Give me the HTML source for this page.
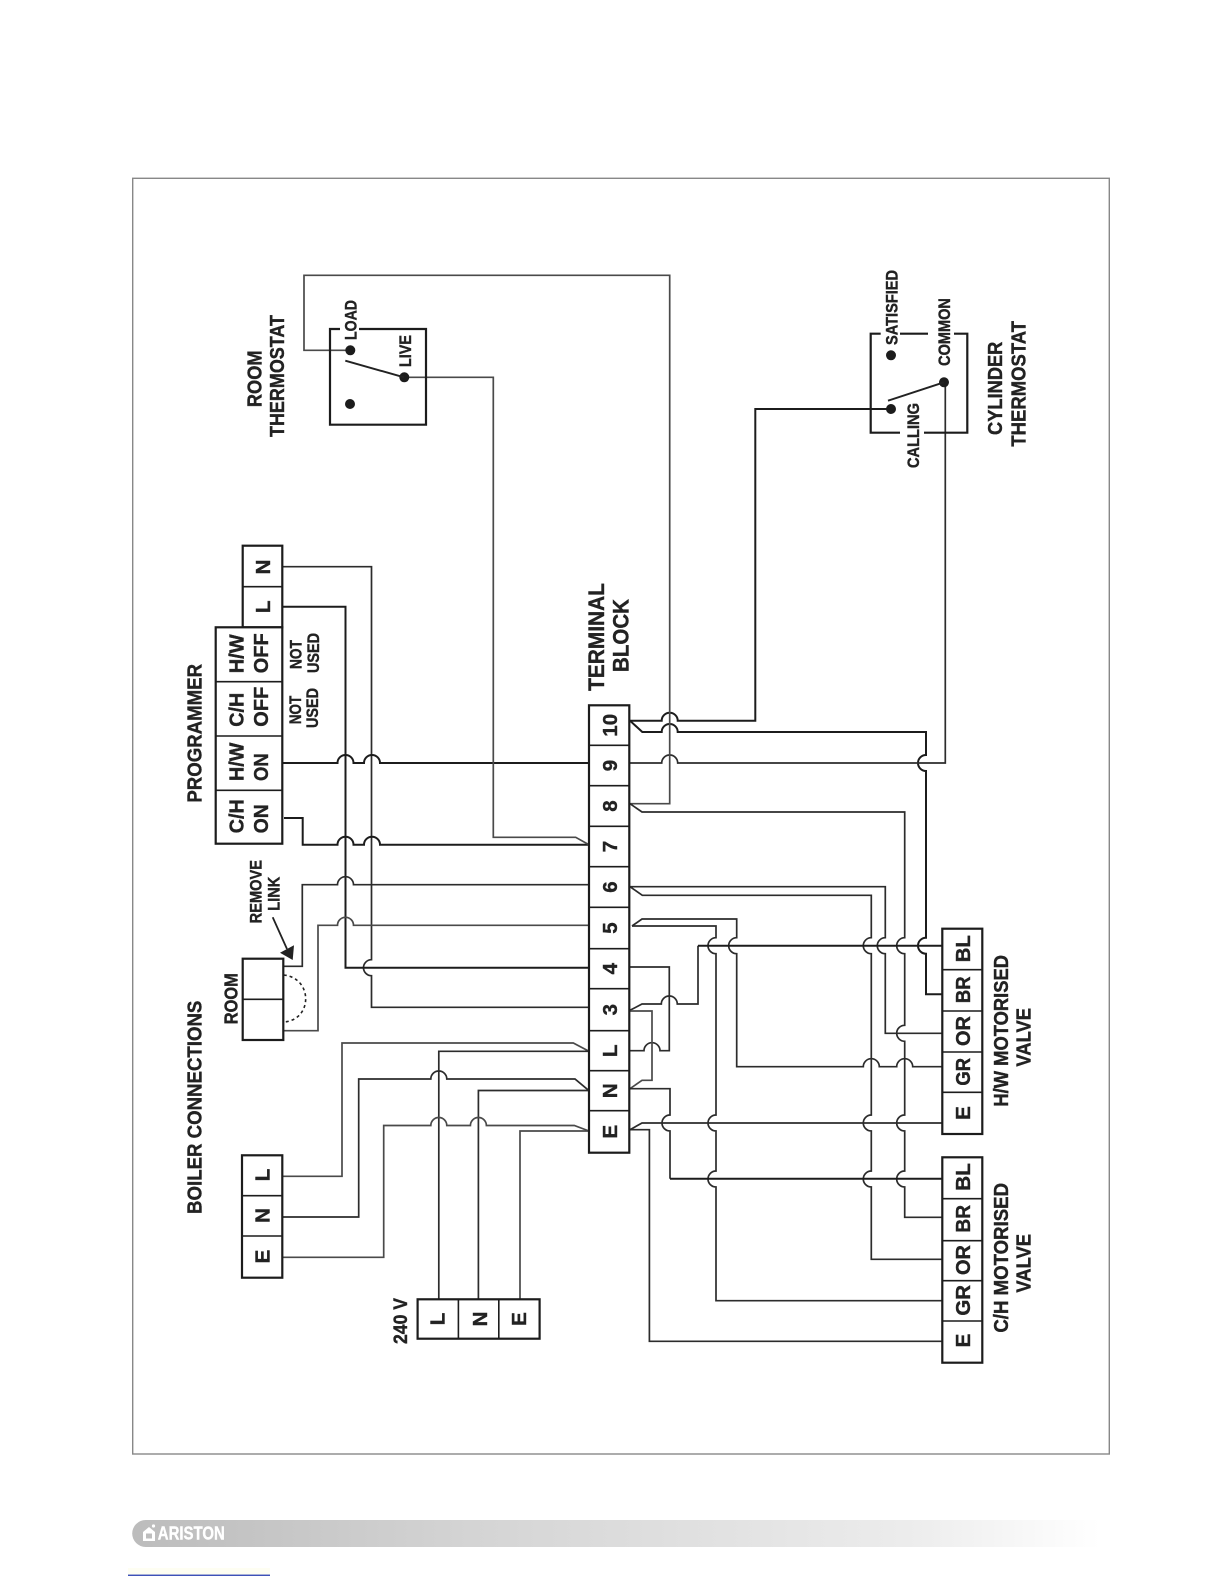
<!DOCTYPE html>
<html><head><meta charset="utf-8"><style>
html,body{margin:0;padding:0;background:#fff}
svg{display:block}
text{font-family:"Liberation Sans",Arial,sans-serif;font-weight:bold;fill:#222;stroke:#222;stroke-width:.4;text-anchor:middle}
.w{fill:none;stroke:#1c1c1c;stroke-width:2}
.m{fill:none;stroke:#2c2c2c;stroke-width:1.7}
.g{fill:none;stroke:#4a4a4a;stroke-width:1.7}
.b{fill:#fff;stroke:#1c1c1c;stroke-width:2.2}
.d{stroke:#1c1c1c;stroke-width:1.6}
</style></head><body>
<svg width="1224" height="1584" viewBox="0 0 1224 1584" xmlns="http://www.w3.org/2000/svg">
<defs><linearGradient id="bar" x1="0" x2="1" y1="0" y2="0"><stop offset="0" stop-color="#bcbcbc"/><stop offset="0.35" stop-color="#d4d4d4"/><stop offset="0.8" stop-color="#ececec"/><stop offset="1" stop-color="#fff"/></linearGradient></defs>
<rect x="132.7" y="178.3" width="976.6" height="1275.7" fill="#fff" stroke="#888" stroke-width="1.4"/>

<!-- wires left -->
<path class="m" d="M282 566.7H371.5V959.7a8 8 0 0 0 0 16V1007.3H589"/>
<path class="w" d="M282 606.7H345.5V967.7H589"/>
<path class="w" d="M282 763H337.5a8 8 0 0 1 16 0H364a8 8 0 0 1 16 0H589"/>
<path class="w" d="M284 818H302.7V844.7H337.5a8 8 0 0 1 16 0H364a8 8 0 0 1 16 0H589"/>
<path class="g" d="M404 377.3H493.3V837.3H575.7L589 844.7"/>
<path class="m" d="M283.7 966.3H302.3V884.7H337.5a8 8 0 0 1 16 0H589"/>
<path class="g" d="M283.7 1030.7H318V925.3H337.5a8 8 0 0 1 16 0H589"/>
<path class="g" d="M282 1176.3H342V1043H573.3L589 1051.3"/>
<path class="m" d="M438.8 1299.3V1051.3H589"/>
<path class="m" d="M282 1217H358.7V1079H430.8a8 8 0 0 1 16 0H575L589 1090.7"/>
<path class="m" d="M478.4 1299.3V1090.5H589"/>
<path class="g" d="M282 1257.3H383.7V1125.5H430.8a8 8 0 0 1 16 0H470.4a8 8 0 0 1 16 0H574.3L589 1131"/>
<path class="g" d="M520 1299.3V1131H589"/>
<path d="M283.7 975C313 978 313 1020 283.7 1022" fill="none" stroke="#222" stroke-width="1.6" stroke-dasharray="3 3"/>
<path d="M272.7 917.3L287 949" stroke="#222" stroke-width="1.8" fill="none"/>
<polygon points="292.7,960 280,952.7 294,945.3" fill="#222"/>

<!-- wires right -->
<path class="w" d="M630 720.7H661.7a8 8 0 0 1 16 0H755.3V409H891"/>
<path class="w" d="M630 720.7L642.3 732H661.7a8 8 0 0 1 16 0H926V755a8 8 0 0 0 0 16V937.7a8 8 0 0 0 0 16V994.3H942"/>
<path class="m" d="M630 763H661.7a8 8 0 0 1 16 0H945.3V382.3"/>
<path class="g" d="M630 803.7H669.7V275.3H304V350.3H350"/>
<path class="m" d="M630 803.7L642 812H904.7V937.7a8 8 0 0 0 0 16V1025.3a8 8 0 0 0 0 16V1115a8 8 0 0 0 0 16V1171a8 8 0 0 0 0 16V1217.3H942"/>
<path class="m" d="M630 886.7H885.3V937.7a8 8 0 0 0 0 16V1033.3H942"/>
<path class="m" d="M630 886.7L642.3 895.3H871.3V937.7a8 8 0 0 0 0 16V1115a8 8 0 0 0 0 16V1171a8 8 0 0 0 0 16V1259.3H942"/>
<path class="m" d="M632 926H716V937.7a8 8 0 0 0 0 16V1115a8 8 0 0 0 0 16V1171a8 8 0 0 0 0 16V1300.7H942"/>
<path class="m" d="M632 926L642 919H736.7V937.7a8 8 0 0 0 0 16V1066.7H863.3a8 8 0 0 1 16 0H896.7a8 8 0 0 1 16 0H942"/>
<path class="m" d="M630 1050.7H644a8 8 0 0 1 16 0H669.3V967H630"/>
<path class="m" d="M630 1010.3L642 1004H661.3a8 8 0 0 1 16 0H698V945.7"/>
<path class="w" d="M698 945.7H942"/>
<path class="g" d="M630 1011H652V1080.3H642L630 1088.7"/>
<path class="m" d="M630 1088.7H670V1115a8 8 0 0 0 0 16V1178.7"/>
<path class="w" d="M670 1178.7H942"/>
<path class="m" d="M630 1129.7L642 1123H942"/>
<path class="m" d="M630 1129.7H649.4V1341.3H942"/>

<!-- room thermostat -->
<path d="M340 329H330V424.7H426V329H359" fill="none" stroke="#1c1c1c" stroke-width="2.2"/>
<circle cx="350.3" cy="350.3" r="5" fill="#1c1c1c"/>
<circle cx="404.3" cy="377.3" r="5" fill="#1c1c1c"/>
<circle cx="350" cy="404" r="5" fill="#1c1c1c"/>
<path d="M345.3 360.7L404 377.3" stroke="#222" stroke-width="1.9"/>

<!-- cylinder thermostat -->
<path d="M880.7 333.7H870.7V432.7H900M924 432.7H967.3V333.7H954M928 333.7H900" fill="none" stroke="#1c1c1c" stroke-width="2.2"/>
<circle cx="891" cy="355.3" r="5" fill="#1c1c1c"/>
<circle cx="944" cy="382.3" r="5" fill="#1c1c1c"/>
<circle cx="891" cy="409" r="5" fill="#1c1c1c"/>
<path d="M888 400.7L944 382.3" stroke="#222" stroke-width="1.9"/>

<!-- boxes -->
<rect class="b" x="242.7" y="545.7" width="39.6" height="81.6"/><path class="d" d="M242.7 586.7H282.3"/>
<rect class="b" x="215.7" y="627.3" width="66.6" height="216.4"/><path class="d" d="M215.7 681.7H282.3M215.7 736H282.3M215.7 790.3H282.3"/>
<rect class="b" x="242.7" y="958.7" width="40.6" height="81.3"/><path class="d" d="M242.7 999.3H283.3"/>
<rect class="b" x="242" y="1155.3" width="40.3" height="122.4"/><path class="d" d="M242 1195.7H282.3M242 1236H282.3"/>
<rect class="b" x="417.6" y="1299.3" width="122" height="39.4"/><path class="d" d="M458.4 1299.3V1338.7M498.8 1299.3V1338.7"/>
<rect class="b" x="589" y="705.3" width="40.3" height="447.4"/>
<path class="d" d="M589 745.3H629.3M589 785.7H629.3M589 826.3H629.3M589 866.7H629.3M589 907.3H629.3M589 948.7H629.3M589 988.7H629.3M589 1030.7H629.3M589 1070.7H629.3M589 1110.7H629.3"/>
<rect class="b" x="942.3" y="928.7" width="40" height="205.3"/>
<path class="d" d="M942.3 969.7H982.3M942.3 1011H982.3M942.3 1052H982.3M942.3 1092.3H982.3"/>
<rect class="b" x="942.3" y="1157.3" width="40" height="205.4"/>
<path class="d" d="M942.3 1198.7H982.3M942.3 1240.7H982.3M942.3 1280.7H982.3M942.3 1321H982.3"/>

<!-- labels -->
<g font-size="20.5">
<text transform="translate(201.4,733.3) rotate(-90)" textLength="138.7" lengthAdjust="spacingAndGlyphs">PROGRAMMER</text>
<text transform="translate(201.4,1107.3) rotate(-90)" textLength="213.3" lengthAdjust="spacingAndGlyphs">BOILER CONNECTIONS</text>
<text transform="translate(261.5,378.8) rotate(-90)" textLength="56.7" lengthAdjust="spacingAndGlyphs">ROOM</text>
<text transform="translate(284.2,376) rotate(-90)" textLength="122" lengthAdjust="spacingAndGlyphs">THERMOSTAT</text>
<text transform="translate(243.5,816.3) rotate(-90)" textLength="34" lengthAdjust="spacingAndGlyphs">C/H</text>
<text transform="translate(268.2,818.8) rotate(-90)" textLength="29" lengthAdjust="spacingAndGlyphs">ON</text>
<text transform="translate(243.5,761.8) rotate(-90)" textLength="38.3" lengthAdjust="spacingAndGlyphs">H/W</text>
<text transform="translate(268.2,767.2) rotate(-90)" textLength="27.7" lengthAdjust="spacingAndGlyphs">ON</text>
<text transform="translate(243.5,709.7) rotate(-90)" textLength="34" lengthAdjust="spacingAndGlyphs">C/H</text>
<text transform="translate(268.2,706.7) rotate(-90)" textLength="40" lengthAdjust="spacingAndGlyphs">OFF</text>
<text transform="translate(243.5,653.8) rotate(-90)" textLength="39" lengthAdjust="spacingAndGlyphs">H/W</text>
<text transform="translate(268.2,653.3) rotate(-90)" textLength="40" lengthAdjust="spacingAndGlyphs">OFF</text>
<text transform="translate(270,606.7) rotate(-90)">L</text>
<text transform="translate(270,567) rotate(-90)">N</text>
<text transform="translate(269.5,1175) rotate(-90)">L</text>
<text transform="translate(269.5,1215.5) rotate(-90)">N</text>
<text transform="translate(269.5,1256.5) rotate(-90)">E</text>
<text transform="translate(969.8,948.7) rotate(-90)" textLength="27" lengthAdjust="spacingAndGlyphs">BL</text>
<text transform="translate(969.8,989.8) rotate(-90)" textLength="26.7" lengthAdjust="spacingAndGlyphs">BR</text>
<text transform="translate(969.8,1031) rotate(-90)" textLength="30" lengthAdjust="spacingAndGlyphs">OR</text>
<text transform="translate(969.8,1071.8) rotate(-90)" textLength="27.7" lengthAdjust="spacingAndGlyphs">GR</text>
<text transform="translate(969.8,1113) rotate(-90)">E</text>
<text transform="translate(969.8,1177) rotate(-90)" textLength="27.7" lengthAdjust="spacingAndGlyphs">BL</text>
<text transform="translate(969.8,1218.8) rotate(-90)" textLength="27.7" lengthAdjust="spacingAndGlyphs">BR</text>
<text transform="translate(969.8,1260) rotate(-90)" textLength="30" lengthAdjust="spacingAndGlyphs">OR</text>
<text transform="translate(969.8,1300.3) rotate(-90)" textLength="30.7" lengthAdjust="spacingAndGlyphs">GR</text>
<text transform="translate(969.8,1340.5) rotate(-90)">E</text>
<text transform="translate(444.5,1319) rotate(-90)">L</text>
<text transform="translate(487,1319) rotate(-90)">N</text>
<text transform="translate(526,1319) rotate(-90)">E</text>
<text transform="translate(617,725.3) rotate(-90)">10</text>
<text transform="translate(617,765.5) rotate(-90)">9</text>
<text transform="translate(617,806) rotate(-90)">8</text>
<text transform="translate(617,846.5) rotate(-90)">7</text>
<text transform="translate(617,887) rotate(-90)">6</text>
<text transform="translate(617,928) rotate(-90)">5</text>
<text transform="translate(617,968.7) rotate(-90)">4</text>
<text transform="translate(617,1009.7) rotate(-90)">3</text>
<text transform="translate(617,1050.7) rotate(-90)">L</text>
<text transform="translate(617,1090.7) rotate(-90)">N</text>
<text transform="translate(617,1131.7) rotate(-90)">E</text>
</g>
<g font-size="22">
<text transform="translate(604,637) rotate(-90)" textLength="107.7" lengthAdjust="spacingAndGlyphs">TERMINAL</text>
<text transform="translate(628.7,635.5) rotate(-90)" textLength="73" lengthAdjust="spacingAndGlyphs">BLOCK</text>
</g>
<g font-size="20">
<text transform="translate(1002,388.3) rotate(-90)" textLength="93.3" lengthAdjust="spacingAndGlyphs">CYLINDER</text>
<text transform="translate(1025.3,383.8) rotate(-90)" textLength="125.7" lengthAdjust="spacingAndGlyphs">THERMOSTAT</text>
<text transform="translate(1008,1030.8) rotate(-90)" textLength="151.7" lengthAdjust="spacingAndGlyphs">H/W MOTORISED</text>
<text transform="translate(1030.3,1037.3) rotate(-90)" textLength="58.7" lengthAdjust="spacingAndGlyphs">VALVE</text>
<text transform="translate(1008,1257.8) rotate(-90)" textLength="149.7" lengthAdjust="spacingAndGlyphs">C/H MOTORISED</text>
<text transform="translate(1030.3,1263.3) rotate(-90)" textLength="58.7" lengthAdjust="spacingAndGlyphs">VALVE</text>
</g>
<text font-size="19" transform="translate(407.2,1321) rotate(-90)" textLength="46" lengthAdjust="spacingAndGlyphs">240 V</text>
<text font-size="18" transform="translate(237.5,998.7) rotate(-90)" textLength="51" lengthAdjust="spacingAndGlyphs">ROOM</text>
<g font-size="16.5">
<text transform="translate(261.5,891.7) rotate(-90)" textLength="63.3" lengthAdjust="spacingAndGlyphs">REMOVE</text>
<text transform="translate(279.5,893.7) rotate(-90)" textLength="34" lengthAdjust="spacingAndGlyphs">LINK</text>
<text transform="translate(356.5,320) rotate(-90)" textLength="40" lengthAdjust="spacingAndGlyphs">LOAD</text>
<text transform="translate(410.8,351) rotate(-90)" textLength="32" lengthAdjust="spacingAndGlyphs">LIVE</text>
<text transform="translate(897.5,307.5) rotate(-90)" textLength="75" lengthAdjust="spacingAndGlyphs">SATISFIED</text>
<text transform="translate(949.8,332) rotate(-90)" textLength="67.7" lengthAdjust="spacingAndGlyphs">COMMON</text>
<text transform="translate(919.1,435.5) rotate(-90)" textLength="65" lengthAdjust="spacingAndGlyphs">CALLING</text>
<text transform="translate(300.8,710) rotate(-90)" textLength="28.3" lengthAdjust="spacingAndGlyphs">NOT</text>
<text transform="translate(317.8,708) rotate(-90)" textLength="40" lengthAdjust="spacingAndGlyphs">USED</text>
<text transform="translate(301.5,654.5) rotate(-90)" textLength="29" lengthAdjust="spacingAndGlyphs">NOT</text>
<text transform="translate(318.8,653) rotate(-90)" textLength="40" lengthAdjust="spacingAndGlyphs">USED</text>
</g>

<!-- footer -->
<path d="M145.7 1520H1100V1547H145.7a13.5 13.5 0 0 1 0-27Z" fill="url(#bar)"/>
<path d="M143 1532l6-5 6 5v9h-12zM146 1533.5v5h6v-5z" fill="#fff" fill-rule="evenodd"/>
<circle cx="153.5" cy="1526" r="1.6" fill="#fff"/>
<text x="191.3" y="1539.5" font-size="18" style="fill:#fff;stroke:#fff;stroke-width:.4" textLength="67" lengthAdjust="spacingAndGlyphs">ARISTON</text>
<rect x="128" y="1568" width="142" height="7" fill="#fefef2"/>
<rect x="128" y="1574.6" width="142" height="1.3" fill="#2a3fb0"/>
</svg>
</body></html>
